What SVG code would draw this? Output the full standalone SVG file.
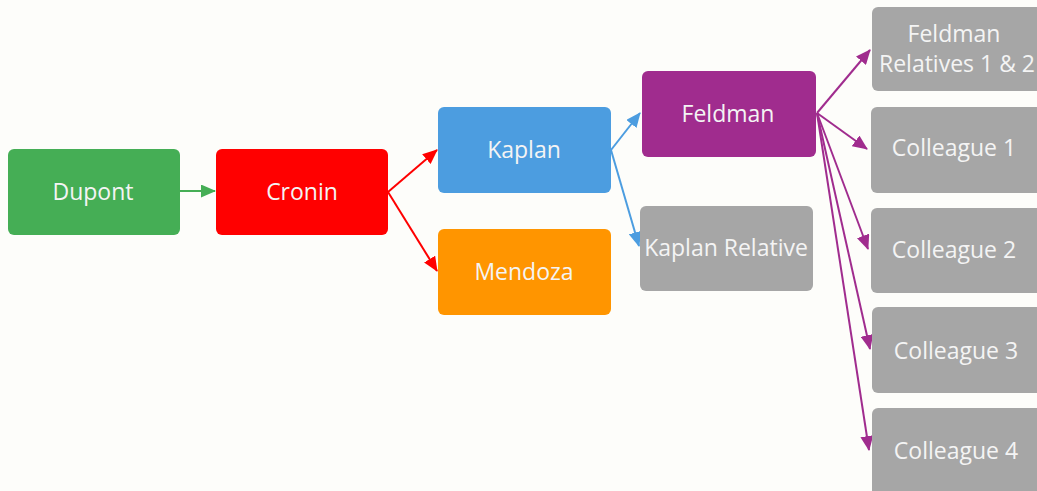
<svg xmlns="http://www.w3.org/2000/svg" width="1037" height="491" viewBox="0 0 1037 491">
<style>
.box{stroke:none}
.t{font-family:"Open Sans","Noto Sans",sans-serif;font-size:23px;fill:#f4f4f4;text-anchor:middle;dominant-baseline:central}
.c{fill:none;stroke-width:2}
</style>
<defs>
<marker id="ag" markerUnits="userSpaceOnUse" markerWidth="15" markerHeight="13" refX="14" refY="6.5" orient="auto"><path d="M0,0 L15,6.5 L0,13 Z" fill="#45ae55"/></marker>
<marker id="ar" markerUnits="userSpaceOnUse" markerWidth="15" markerHeight="13" refX="14" refY="6.5" orient="auto"><path d="M0,0 L15,6.5 L0,13 Z" fill="#ff0000"/></marker>
<marker id="ab" markerUnits="userSpaceOnUse" markerWidth="15" markerHeight="13" refX="14" refY="6.5" orient="auto"><path d="M0,0 L15,6.5 L0,13 Z" fill="#4c9de0"/></marker>
<marker id="ap" markerUnits="userSpaceOnUse" markerWidth="15" markerHeight="13" refX="14" refY="6.5" orient="auto"><path d="M0,0 L15,6.5 L0,13 Z" fill="#a02c8e"/></marker>
</defs>
<rect width="1037" height="491" fill="#fdfdfa"/>
<g id="connectors">
<line class="c" x1="180" y1="191" x2="215" y2="191" stroke="#45ae55" marker-end="url(#ag)"/>
<line class="c" x1="388" y1="192" x2="437" y2="150" stroke="#ff0000" marker-end="url(#ar)"/>
<line class="c" x1="388" y1="192" x2="437" y2="271" stroke="#ff0000" marker-end="url(#ar)"/>
<line class="c" x1="611" y1="150" x2="640" y2="113" stroke="#4c9de0" marker-end="url(#ab)"/>
<line class="c" x1="611" y1="150" x2="639" y2="246" stroke="#4c9de0" marker-end="url(#ab)"/>
<line class="c" x1="817" y1="113" x2="870" y2="50" stroke="#a02c8e" marker-end="url(#ap)"/>
<line class="c" x1="817" y1="113" x2="867" y2="149" stroke="#a02c8e" marker-end="url(#ap)"/>
<line class="c" x1="817" y1="113" x2="868" y2="249" stroke="#a02c8e" marker-end="url(#ap)"/>
<line class="c" x1="817" y1="113" x2="870" y2="349" stroke="#a02c8e" marker-end="url(#ap)"/>
<line class="c" x1="817" y1="113" x2="869" y2="450" stroke="#a02c8e" marker-end="url(#ap)"/>
</g>
<g id="dupont"><rect class="box" x="8" y="149" width="172" height="86" rx="6" fill="#45ae55"/><text class="t" x="93" y="191">Dupont</text></g>
<g id="cronin"><rect class="box" x="216" y="149" width="172" height="86" rx="6" fill="#ff0000"/><text class="t" x="302" y="191">Cronin</text></g>
<g id="kaplan"><rect class="box" x="438" y="107" width="173" height="86" rx="6" fill="#4c9de0"/><text class="t" x="524" y="149">Kaplan</text></g>
<g id="mendoza"><rect class="box" x="438" y="229" width="173" height="86" rx="6" fill="#ff9500"/><text class="t" x="524" y="271">Mendoza</text></g>
<g id="feldman"><rect class="box" x="642" y="71" width="174" height="86" rx="6" fill="#a02c8e"/><text class="t" x="728" y="113">Feldman</text></g>
<g id="kaplan-relative"><rect class="box" x="640" y="206" width="173" height="85" rx="6" fill="#a6a6a6"/><text class="t" x="726" y="247">Kaplan Relative</text></g>
<g id="feldman-relatives"><rect class="box" x="872" y="7" width="174" height="84" rx="6" fill="#a6a6a6"/><text class="t" x="954" y="33">Feldman</text><text class="t" x="957" y="63">Relatives 1 &amp; 2</text></g>
<g id="colleague1"><rect class="box" x="871" y="107" width="175" height="86" rx="6" fill="#a6a6a6"/><text class="t" x="954" y="147">Colleague 1</text></g>
<g id="colleague2"><rect class="box" x="871" y="208" width="175" height="85" rx="6" fill="#a6a6a6"/><text class="t" x="954" y="249">Colleague 2</text></g>
<g id="colleague3"><rect class="box" x="872" y="307" width="174" height="86" rx="6" fill="#a6a6a6"/><text class="t" x="956" y="350">Colleague 3</text></g>
<g id="colleague4"><rect class="box" x="872" y="408" width="174" height="90" rx="6" fill="#a6a6a6"/><text class="t" x="956" y="450">Colleague 4</text></g>
</svg>
